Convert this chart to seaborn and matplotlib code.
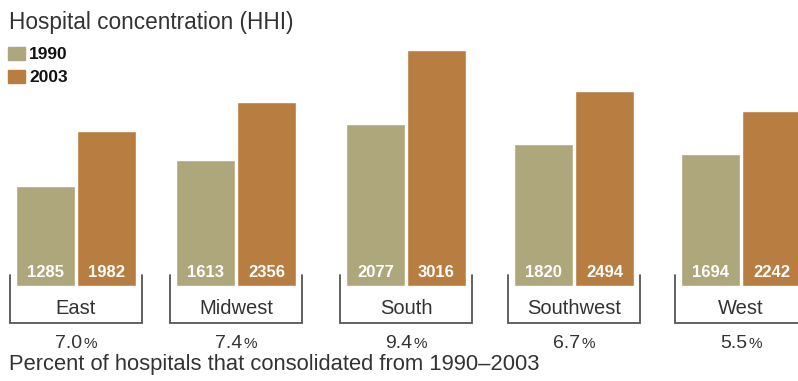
import matplotlib
matplotlib.use("Agg")
import matplotlib.pyplot as plt
import matplotlib.transforms as mtransforms
from matplotlib.patches import Rectangle
import seaborn as sns
import pandas as pd

regions = ["East", "Midwest", "South", "Southwest", "West"]
hhi_1990 = [1285, 1613, 2077, 1820, 1694]
hhi_2003 = [1982, 2356, 3016, 2494, 2242]
consolidated_pct = ["7.0", "7.4", "9.4", "6.7", "5.5"]
years = ["1990", "2003"]

title = "Hospital concentration (HHI)"
footer = "Percent of hospitals that consolidated from 1990\u20132003"

# layout: horizontal centre of each region group, in pixels
group_centers = [76, 236, 406, 574, 741]

c1990 = "#ada77b"
c2003 = "#b87e41"
ink = "#333333"

W, H = 798, 381
sns.set_theme(style="white")
plt.rcParams["font.family"] = ["Liberation Sans", "DejaVu Sans"]

df = pd.DataFrame({
    "pos": group_centers * 2,
    "year": [years[0]] * len(regions) + [years[1]] * len(regions),
    "hhi": hhi_1990 + hhi_2003,
})

fig = plt.figure(figsize=(W / 100, H / 100), dpi=100)
ax = fig.add_axes([0, 0, 1, 1])

# group width ~122 px; native scale multiplies width by the smallest spacing (160 px)
sns.barplot(data=df, x="pos", y="hhi", hue="year", hue_order=years,
            palette=[c1990, c2003], native_scale=True, width=0.7625, gap=0.04,
            saturation=1, legend=False, ax=ax)

# bars rest on y=286 px, ~0.0782 px per HHI unit
px_per_unit = 0.0782
base_px = 286
ax.set_ylim(-(H - base_px) / px_per_unit, base_px / px_per_unit)
ax.set_xlim(0, W)
ax.axis("off")


def fy(ypx):
    return 1 - ypx / H


def fx(xpx):
    return xpx / W


blend = mtransforms.blended_transform_factory(ax.transData, fig.transFigure)

# value labels inside the bars
for patch, val in zip(ax.patches, hhi_1990 + hhi_2003):
    if patch.get_height() <= 0:
        continue
    cx = patch.get_x() + patch.get_width() / 2
    ax.text(cx, fy(277), f"{val}", transform=blend, ha="center",
            va="baseline", color="white", fontsize=12, fontweight="bold")

# brackets, region names and consolidation percentages
half = 66
fig.canvas.draw()
renderer = fig.canvas.get_renderer()
for cx, name, pct in zip(group_centers, regions, consolidated_pct):
    xl, xr = cx - half, cx + half
    ax.plot([xl, xl, xr, xr], [fy(275), fy(323), fy(323), fy(275)],
            transform=blend, color="#555555", lw=1.3, solid_joinstyle="miter",
            clip_on=False)
    ax.text(cx, fy(314), name, transform=blend, ha="center", va="baseline",
            color=ink, fontsize=14.5)
    t_num = ax.text(cx, fy(348), pct, transform=blend, ha="left",
                    va="baseline", color=ink, fontsize=14)
    t_pct = ax.text(cx, fy(348), "%", transform=blend, ha="left",
                    va="baseline", color=ink, fontsize=11)
    w_num = t_num.get_window_extent(renderer).width
    w_pct = t_pct.get_window_extent(renderer).width
    x0 = cx - (w_num + w_pct + 1) / 2
    t_num.set_x(x0)
    t_pct.set_x(x0 + w_num + 1)

# title and legend
fig.text(fx(9), fy(29), title, ha="left", va="baseline", color=ink,
         fontsize=16.3)
for k, (yr, col) in enumerate(zip(years, [c1990, c2003])):
    top = 47 + k * 23
    fig.patches.append(Rectangle((fx(8), fy(top + 13)), 17 / W, 13 / H,
                                 transform=fig.transFigure, color=col))
    fig.text(fx(29), fy(top + 12), yr, ha="left", va="baseline",
             color="#111111", fontsize=12.5, fontweight="bold")

fig.text(fx(9), fy(370), footer, ha="left", va="baseline", color=ink,
         fontsize=15.8)

fig.savefig("out.png", dpi=100)
